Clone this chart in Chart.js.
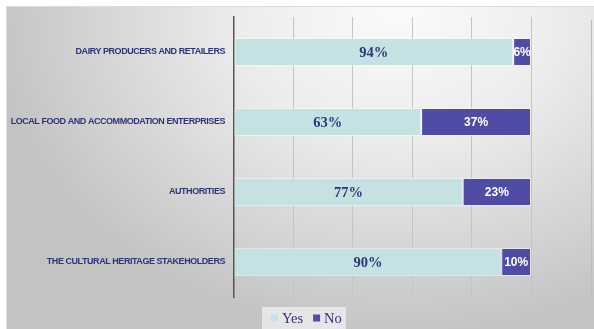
<!DOCTYPE html>
<html>
<head>
<meta charset="utf-8">
<script src="https://cdn.jsdelivr.net/npm/chart.js@4"></script>
<style>
  html, body { margin: 0; padding: 0; background: #ffffff; }
  #wrap { width: 594px; height: 329px; position: relative; }
</style>
</head>
<body>
<div id="wrap"><canvas id="c" width="594" height="329"></canvas></div>
<script>
// Survey groups and answer shares (%)
const categories = [
  'DAIRY PRODUCERS AND RETAILERS',
  'LOCAL FOOD AND ACCOMMODATION ENTERPRISES',
  'AUTHORITIES',
  'THE CULTURAL HERITAGE STAKEHOLDERS'
];
const yesValues = [94, 63, 77, 90];
const noValues = [6, 37, 23, 10];
const seriesNames = ['Yes', 'No'];
const xTicks = [0, 20, 40, 60, 80, 100];

const YES_COLOR = '#c4e2e4';
const NO_COLOR = '#4e4ca4';
const NAVY = '#2e3479';

// Soft grey panel behind the whole chart
const panelBackground = {
  id: 'panelBackground',
  beforeDraw(chart) {
    const ctx = chart.ctx;
    ctx.save();
    ctx.fillStyle = '#ffffff';
    ctx.fillRect(0, 0, chart.width, chart.height);
    ctx.save();
    ctx.beginPath();
    ctx.rect(6, 6, chart.width - 6, chart.height - 6);
    ctx.clip();
    ctx.translate(400, 10);
    ctx.scale(1.25, 1);
    const g = ctx.createRadialGradient(0, 0, 0, 0, 0, 330);
    g.addColorStop(0, '#fbfbfb');
    g.addColorStop(0.4, '#ececec');
    g.addColorStop(1, '#c3c3c3');
    ctx.fillStyle = g;
    ctx.fillRect(-400, -20, 800, 360);
    ctx.restore();
    // panel edges
    ctx.strokeStyle = '#dcdcdc';
    ctx.lineWidth = 1;
    ctx.beginPath();
    ctx.moveTo(6.5, chart.height);
    ctx.lineTo(6.5, 6.5);
    ctx.lineTo(chart.width, 6.5);
    ctx.stroke();
    // faint right frame line
    const a = chart.chartArea;
    ctx.strokeStyle = '#bdbdbd';
    ctx.beginPath();
    ctx.moveTo(591.5, a.top + 3);
    ctx.lineTo(591.5, a.bottom);
    ctx.stroke();
    ctx.restore();
  }
};

// Tighter tracking for the category names on the left axis
const axisTracking = {
  id: 'axisTracking',
  beforeDraw(chart) { chart.ctx.letterSpacing = '-0.45px'; },
  beforeDatasetsDraw(chart) { chart.ctx.letterSpacing = '0px'; }
};

// Percent labels centred in each segment
const segmentLabels = {
  id: 'segmentLabels',
  afterDatasetsDraw(chart) {
    const ctx = chart.ctx;
    ctx.save();
    ctx.textAlign = 'center';
    ctx.textBaseline = 'middle';
    chart.data.datasets.forEach((ds, di) => {
      const meta = chart.getDatasetMeta(di);
      meta.data.forEach((bar, i) => {
        const cx = (bar.x + bar.base) / 2;
        if (di === 0) {
          ctx.font = 'bold 14.5px "Liberation Serif", "Times New Roman", serif';
          ctx.fillStyle = NAVY;
        } else {
          ctx.font = 'bold 12px "Liberation Sans", Arial, sans-serif';
          ctx.fillStyle = '#ffffff';
        }
        ctx.fillText(ds.data[i] + '%', cx, bar.y + 1);
      });
    });
    ctx.restore();
  }
};

// Legend strip under the plot
const bottomLegend = {
  id: 'bottomLegend',
  afterDraw(chart) {
    const ctx = chart.ctx;
    ctx.save();
    ctx.fillStyle = 'rgba(238,238,238,0.8)';
    ctx.fillRect(262, 307, 84, 22);
    ctx.font = '14.5px "Liberation Serif", "Times New Roman", serif';
    ctx.textBaseline = 'middle';
    let x = 271;
    const y = 318;
    chart.data.datasets.forEach((ds) => {
      ctx.fillStyle = ds.backgroundColor;
      ctx.fillRect(x, y - 3.5, 7, 7);
      x += 11;
      ctx.fillStyle = NAVY;
      ctx.fillText(ds.label, x, y + 1);
      x += ctx.measureText(ds.label).width + 10;
    });
    ctx.restore();
  }
};

new Chart(document.getElementById('c'), {
  type: 'bar',
  data: {
    labels: categories,
    datasets: [
      { label: seriesNames[0], data: yesValues, backgroundColor: YES_COLOR,
        borderColor: 'rgba(255,255,255,0.45)', borderWidth: 1, borderSkipped: false },
      { label: seriesNames[1], data: noValues, backgroundColor: NO_COLOR,
        borderColor: 'rgba(255,255,255,0.45)', borderWidth: 1, borderSkipped: false }
    ]
  },
  options: {
    indexAxis: 'y',
    responsive: false,
    animation: false,
    layout: { padding: { left: 0, right: 63, top: 17, bottom: 0 } },
    datasets: { bar: { categoryPercentage: 1, barPercentage: 0.4 } },
    plugins: {
      legend: { display: false },
      tooltip: { enabled: false }
    },
    scales: {
      x: {
        stacked: true,
        min: 0,
        max: 100,
        afterBuildTicks(scale) { scale.ticks = xTicks.map(v => ({ value: v })); },
        afterFit(scale) { scale.height = 32; },
        ticks: { display: false },
        border: { display: false },
        grid: {
          drawTicks: false,
          lineWidth: 1,
          color: (c) => c.tick && c.tick.value === 0 ? 'rgba(0,0,0,0)' : '#c4c4c4'
        }
      },
      y: {
        stacked: true,
        afterFit(scale) { scale.width = 234; },
        border: { display: true, color: '#555555', width: 1.5 },
        grid: { display: false, drawTicks: false },
        ticks: {
          padding: 9,
          color: NAVY,
          font: { family: '"Liberation Sans", Arial, sans-serif', size: 9, weight: 'bold' }
        }
      }
    }
  },
  plugins: [panelBackground, axisTracking, segmentLabels, bottomLegend]
});
</script>
</body>
</html>
